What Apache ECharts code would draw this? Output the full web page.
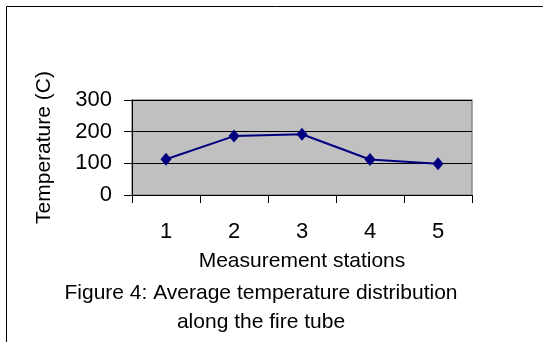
<!DOCTYPE html>
<html>
<head>
<meta charset="utf-8">
<script src="https://cdn.jsdelivr.net/npm/echarts@6/dist/echarts.min.js"></script>
<style>
html,body{margin:0;padding:0;background:#fff;}
#chart{width:543px;height:342px;}
</style>
</head>
<body>
<div id="chart"></div>
<script>
var categories = ['1', '2', '3', '4', '5'];
var temperatures = [113, 186, 192, 112, 99];
var yTicks = [0, 100, 200, 300];
var xAxisTitle = 'Measurement stations';
var yAxisTitle = 'Temperature (C)';
var caption = 'Figure 4: Average temperature distribution\nalong the fire tube';

var chart = echarts.init(document.getElementById('chart'), null, {renderer: 'canvas'});
var font = 'Liberation Sans, Arial, sans-serif';
chart.setOption({
  animation: false,
  backgroundColor: '#fff',
  title: {
    text: caption,
    left: 261,
    top: 278,
    padding: 0,
    textAlign: 'center',
    textStyle: {fontFamily: font, fontSize: 21, fontWeight: 'normal', color: '#000', lineHeight: 29.5, align: 'center'}
  },
  graphic: [{
    type: 'rect',
    shape: {x: 6.5, y: 6.5, width: 700, height: 500},
    style: {fill: 'none', stroke: '#000', lineWidth: 1},
    silent: true
  }],
  grid: {
    left: 132, right: 71, top: 100, bottom: 147,
    show: true, backgroundColor: '#C0C0C0', borderColor: '#8c8c8c', borderWidth: 1.5
  },
  xAxis: {
    type: 'category',
    data: categories,
    boundaryGap: true,
    name: xAxisTitle,
    nameLocation: 'middle',
    nameGap: 56,
    nameTextStyle: {fontFamily: font, fontSize: 21, color: '#000'},
    axisLine: {lineStyle: {color: '#000', width: 1}},
    axisTick: {show: true, length: 8, alignWithLabel: false, lineStyle: {color: '#000'}},
    axisLabel: {fontFamily: font, fontSize: 22, color: '#000', margin: 26},
    splitLine: {show: false}
  },
  yAxis: {
    type: 'value',
    min: yTicks[0],
    max: yTicks[yTicks.length - 1],
    interval: 100,
    name: yAxisTitle,
    nameLocation: 'middle',
    nameRotate: 90,
    nameGap: 77,
    nameTextStyle: {fontFamily: font, fontSize: 21, color: '#000'},
    axisLine: {show: true, lineStyle: {color: '#000', width: 1}},
    axisTick: {show: true, length: 8, lineStyle: {color: '#000'}},
    axisLabel: {fontFamily: font, fontSize: 22, color: '#000', margin: 20},
    splitLine: {show: true, lineStyle: {color: '#000', width: 1}}
  },
  series: [{
    type: 'line',
    data: temperatures,
    symbol: 'diamond',
    symbolSize: [11, 13],
    lineStyle: {color: '#000080', width: 2},
    itemStyle: {color: '#000080'},
    z: 5
  }]
});
</script>
</body>
</html>
